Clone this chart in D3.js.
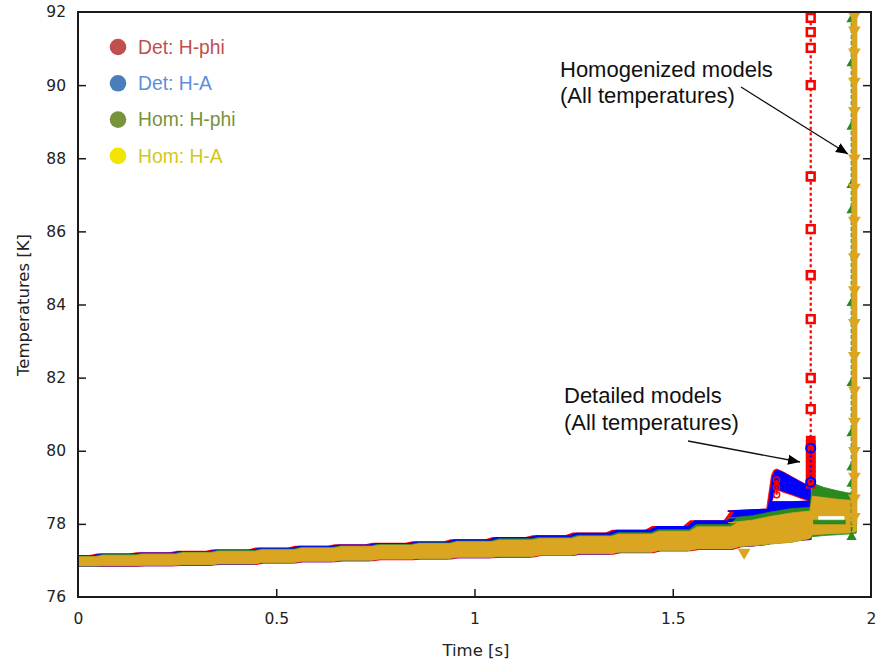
<!DOCTYPE html>
<html><head><meta charset="utf-8">
<script src="https://cdn.jsdelivr.net/npm/d3@7"></script>
<style>body{margin:0;background:#fff} svg{display:block}</style>
</head><body><svg id="chart" width="880" height="663"></svg>
<script>
// ---------------- data ----------------
const seriesNames = ["Det: H-phi", "Det: H-A", "Hom: H-phi", "Hom: H-A"];
const xTicks = [0, 0.5, 1, 1.5, 2];
const xTickLabels = ["0", "0.5", "1", "1.5", "2"];
const yTicks = [76, 78, 80, 82, 84, 86, 88, 90, 92];
const yTickLabels = ["76", "78", "80", "82", "84", "86", "88", "90", "92"];

// steady climb of the temperature envelope (step times, s)
const stepTime    = [0, 0.04, 0.14, 0.24, 0.33, 0.44, 0.54, 0.64, 0.735, 0.836, 0.932, 1.038, 1.139, 1.239, 1.34, 1.441, 1.537, 1.64];
const detAUpper   = [77.13, 77.17, 77.2, 77.24, 77.28, 77.33, 77.38, 77.42, 77.46, 77.5, 77.56, 77.62, 77.67, 77.74, 77.82, 77.92, 78.08, 78.35];
const detALower   = [76.84, 76.85, 76.86, 76.88, 76.9, 76.94, 76.97, 77.0, 77.03, 77.05, 77.08, 77.1, 77.14, 77.18, 77.22, 77.27, 77.31, 77.36];
const detPhiUpper = [77.13, 77.17, 77.2, 77.24, 77.28, 77.33, 77.38, 77.42, 77.46, 77.5, 77.56, 77.62, 77.67, 77.74, 77.82, 77.92, 78.08, 78.35];
const detPhiLower = [76.84, 76.85, 76.86, 76.88, 76.9, 76.94, 76.97, 77.0, 77.03, 77.05, 77.08, 77.1, 77.14, 77.18, 77.22, 77.27, 77.31, 77.36];
const homPhiUpper = [77.12, 77.16, 77.19, 77.23, 77.27, 77.31, 77.36, 77.4, 77.44, 77.48, 77.53, 77.59, 77.63, 77.69, 77.76, 77.84, 77.98, 78.16];
const homPhiLower = [76.85, 76.86, 76.87, 76.89, 76.91, 76.95, 76.98, 77.01, 77.04, 77.06, 77.09, 77.11, 77.15, 77.19, 77.23, 77.28, 77.32, 77.37];
const homAUpper   = [77.1, 77.14, 77.17, 77.21, 77.25, 77.29, 77.34, 77.38, 77.42, 77.46, 77.51, 77.56, 77.6, 77.66, 77.72, 77.8, 77.92, 78.03];
const homALower   = [76.845, 76.855, 76.865, 76.885, 76.905, 76.945, 76.975, 77.005, 77.035, 77.055, 77.085, 77.105, 77.145, 77.185, 77.225, 77.275, 77.315, 77.365];

// late part of the detailed models (before quench at ~1.85 s)
const detLateTime   = [1.64, 1.70, 1.742, 1.748, 1.80, 1.848];
const detLateUpper  = [78.35, 78.38, 78.4, 78.6, 78.6, 78.62];
const detLateLower  = [77.36, 77.4, 77.45, 77.5, 77.55, 77.58];
// hump of some detailed-model temperatures
const humpTime  = [1.740, 1.752, 1.758, 1.765, 1.78, 1.80, 1.82, 1.836, 1.848];
const humpUpper = [78.4, 79.3, 79.44, 79.47, 79.4, 79.28, 79.16, 79.07, 79.1];
const humpLower = [78.4, 78.7, 78.97, 78.95, 78.89, 78.82, 78.74, 78.68, 78.64];

// late part of the homogenized models
const homLateTime     = [1.64, 1.70, 1.745, 1.80, 1.846, 1.852, 1.88, 1.91, 1.94, 1.952, 1.963];
const homPhiLateUpper = [78.16, 78.22, 78.32, 78.42, 78.45, 79.12, 79.0, 78.92, 78.85, 78.84, 78.3];
const homPhiLateLower = [77.37, 77.4, 77.45, 77.5, 77.6, 77.65, 77.68, 77.7, 77.72, 77.72, 77.75];
const homALateUpper   = [78.03, 78.1, 78.2, 78.3, 78.35, 78.76, 78.72, 78.68, 78.65, 78.65, 78.3];
const homALateLower   = [77.37, 77.4, 77.45, 77.5, 77.6, 77.7, 77.72, 77.74, 77.75, 77.75, 77.8];
// gap and Hom H-phi cluster visible inside the Hom H-A band after 1.85 s
const homGapTime   = [1.868, 1.932];
const homGapUpper  = [78.2, 78.2];
const homGapLower  = [78.1, 78.1];
const homPhiBarTime  = [1.855, 1.935];
const homPhiBarUpper = [78.1, 78.1];
const homPhiBarLower = [78.0, 78.0];

// quench spikes (vertical runs of markers)
const detSpikeTime = 1.848;
const detPhiSpikeTemps = [91.84, 91.45, 91.02, 90.0, 87.5, 86.06, 84.8, 83.6, 81.99, 81.14];
const detPhiBlockTemps = [80.28, 80.16, 80.04, 79.92, 79.8, 79.68, 79.56, 79.44, 79.32, 79.2, 79.1];
const detPhiSpikeRange = [79.0, 93];
const detASpikeTemps = [80.07, 79.14];
const detASpikeRange = [79.14, 80.07];
const humpMarkTime = 1.762;
const humpMarkTemps = [79.2, 79.0, 78.8];

const homPhiSpikeTime = 1.951;
const homPhiSpikeTemps = [91.8, 90.6, 88.86, 87.27, 86.58, 84.04, 81.85, 80.48, 79.55, 79.1, 77.64];
const homPhiSpikeRange = [77.64, 93];
const homASpikeTime = 1.958;
const homASpikeTemps = [91.9, 91.5, 90.9, 90.1, 89.3, 88.0, 87.2, 86.3, 85.3, 84.4, 83.5, 82.6, 81.66, 80.8, 80.0, 79.3, 78.7, 78.2];
const homASpikeRange = [78.0, 93];
const homADipTime = [1.68];
const homADipTemps = [77.22];

// ---------------- chart ----------------
const mL = 78, mR = 871, mT = 12, mB = 597;
const x = d3.scaleLinear().domain([0, 2]).range([mL, mR]);
const y = d3.scaleLinear().domain([76, 92]).range([mB, mT]);

const col = {detPhi: "#ff0000", detA: "#0000ff", homPhi: "#2a8a1e", homA: "#daa520"};
const legendDot = ["#c0504d", "#4a7ebb", "#77933c", "#f2e600"];
const legendText = ["#c0504d", "#5b8fd9", "#77933c", "#d4c81a"];

const svg = d3.select("#chart");
const defs = svg.append("defs");
defs.append("clipPath").attr("id", "clip")
  .append("rect").attr("x", mL).attr("y", mT).attr("width", mR - mL).attr("height", mB - mT);
defs.append("marker").attr("id", "arrow")
  .attr("viewBox", "0 0 10 10").attr("refX", 10).attr("refY", 5)
  .attr("markerWidth", 12).attr("markerHeight", 12).attr("markerUnits", "userSpaceOnUse")
  .attr("orient", "auto")
  .append("path").attr("d", "M0,0.8 L10,5 L0,9.2 Z").attr("fill", "#000");

const plot = svg.append("g").attr("clip-path", "url(#clip)");
const line = d3.line().x(d => x(d[0])).y(d => y(d[1]));
const ramp = 0.018;

function stepPts(times, vals, lead) {
  const pts = [[times[0], vals[0]]];
  for (let i = 1; i < times.length; i++) {
    pts.push([times[i] + lead, vals[i - 1]], [times[i] + lead + ramp, vals[i]]);
  }
  return pts;
}
function linPts(times, vals) { return times.map((t, i) => [t, vals[i]]); }
function band(upperPts, lowerPts, fill, sw) {
  const pts = upperPts.concat(lowerPts.slice().reverse());
  plot.append("path").attr("d", line(pts) + "Z").attr("fill", fill)
    .attr("stroke", fill).attr("stroke-width", sw === undefined ? 0.8 : sw).attr("stroke-linejoin", "round");
}

// Det: H-phi (red)
band(stepPts(stepTime, detPhiUpper, -0.01).concat(linPts(detLateTime, detLateUpper)),
     stepPts(stepTime, detPhiLower, 0.01).concat(linPts(detLateTime, detLateLower)), col.detPhi, 1.6);
band(linPts(humpTime.map(t => t - 0.003), humpUpper.map(v => v + 0.03)), linPts(humpTime, humpLower.map(v => v - 0.03)), col.detPhi);
// Det: H-A (blue)
band(stepPts(stepTime, detAUpper, 0).concat(linPts(detLateTime, detLateUpper)),
     stepPts(stepTime, detALower, 0).concat(linPts(detLateTime, detLateLower)), col.detA, 1.4);
band(linPts(humpTime, humpUpper), linPts(humpTime, humpLower), col.detA);
// Hom: H-phi (green)
band(stepPts(stepTime, homPhiUpper, 0.004).concat(linPts(homLateTime, homPhiLateUpper)),
     stepPts(stepTime, homPhiLower, 0.004).concat(linPts(homLateTime, homPhiLateLower)), col.homPhi);
// Hom: H-A (goldenrod)
band(stepPts(stepTime, homAUpper, 0.006).concat(linPts(homLateTime, homALateUpper)),
     stepPts(stepTime, homALower, 0.006).concat(linPts(homLateTime, homALateLower)), col.homA);
band(linPts(homGapTime, homGapUpper), linPts(homGapTime, homGapLower), "#ffffff");
band(linPts(homPhiBarTime, homPhiBarUpper), linPts(homPhiBarTime, homPhiBarLower), col.homPhi);

// symbols
const sq = d3.symbol().type(d3.symbolSquare).size(60)();
const tri = d3.symbol().type(d3.symbolTriangle).size(46)();
const triBig = d3.symbol().type(d3.symbolTriangle).size(70)();

// red quench spike
plot.append("line").attr("x1", x(detSpikeTime)).attr("x2", x(detSpikeTime))
  .attr("y1", y(detPhiSpikeRange[0])).attr("y2", y(detPhiSpikeRange[1]))
  .attr("stroke", col.detPhi).attr("stroke-width", 2.2).attr("stroke-dasharray", "3,2.5");
plot.selectAll(".sq").data(detPhiSpikeTemps).join("path").attr("class", "sq")
  .attr("d", sq).attr("transform", d => `translate(${x(detSpikeTime)},${y(d)})`)
  .attr("fill", "#fff").attr("stroke", col.detPhi).attr("stroke-width", 2.6);
plot.selectAll(".sqb").data(detPhiBlockTemps).join("path").attr("class", "sqb")
  .attr("d", sq).attr("transform", d => `translate(${x(detSpikeTime)},${y(d)})`)
  .attr("fill", col.detPhi).attr("stroke", col.detPhi).attr("stroke-width", 2);
// red markers on hump
plot.append("line").attr("x1", x(humpMarkTime)).attr("x2", x(humpMarkTime))
  .attr("y1", y(d3.max(humpMarkTemps))).attr("y2", y(d3.min(humpMarkTemps)))
  .attr("stroke", col.detPhi).attr("stroke-width", 2).attr("stroke-dasharray", "3,3");
plot.selectAll(".hc").data(humpMarkTemps).join("circle").attr("class", "hc")
  .attr("cx", x(humpMarkTime)).attr("cy", d => y(d)).attr("r", 3)
  .attr("fill", "none").attr("stroke", col.detPhi).attr("stroke-width", 1.5);
// blue spike
plot.append("line").attr("x1", x(detSpikeTime)).attr("x2", x(detSpikeTime))
  .attr("y1", y(detASpikeRange[0])).attr("y2", y(detASpikeRange[1]))
  .attr("stroke", col.detA).attr("stroke-width", 2).attr("stroke-dasharray", "2,3");
plot.selectAll(".ci").data(detASpikeTemps).join("circle").attr("class", "ci")
  .attr("cx", x(detSpikeTime)).attr("cy", d => y(d)).attr("r", 4.5)
  .attr("fill", "none").attr("stroke", col.detA).attr("stroke-width", 2);

// green spike
plot.append("line").attr("x1", x(homPhiSpikeTime)).attr("x2", x(homPhiSpikeTime))
  .attr("y1", y(homPhiSpikeRange[0])).attr("y2", y(homPhiSpikeRange[1]))
  .attr("stroke", col.homPhi).attr("stroke-width", 1.8).attr("stroke-dasharray", "4,2");
plot.selectAll(".tr").data(homPhiSpikeTemps).join("path").attr("class", "tr")
  .attr("d", tri).attr("transform", d => `translate(${x(homPhiSpikeTime)},${y(d)})`)
  .attr("fill", col.homPhi);
// yellow spike
plot.append("line").attr("x1", x(homASpikeTime)).attr("x2", x(homASpikeTime))
  .attr("y1", y(homASpikeRange[0])).attr("y2", y(homASpikeRange[1]))
  .attr("stroke", col.homA).attr("stroke-width", 6);
plot.selectAll(".td").data(homASpikeTemps).join("path").attr("class", "td")
  .attr("d", triBig).attr("transform", d => `translate(${x(homASpikeTime)},${y(d)}) rotate(180)`)
  .attr("fill", col.homA);
plot.selectAll(".tdd").data(homADipTemps).join("path").attr("class", "tdd")
  .attr("d", triBig).attr("transform", (d, i) => `translate(${x(homADipTime[i])},${y(d)}) rotate(180)`)
  .attr("fill", col.homA);

// ---------------- frame & axes ----------------
const axisCol = "#1a1a1a";
svg.append("rect").attr("x", mL).attr("y", mT).attr("width", mR - mL).attr("height", mB - mT)
  .attr("fill", "none").attr("stroke", axisCol).attr("stroke-width", 2);
const tickFont = "'DejaVu Sans', sans-serif";
const yAxisL = d3.axisLeft(y).tickValues(yTicks).tickFormat((d, i) => yTickLabels[i]).tickSizeInner(-8).tickSizeOuter(0).tickPadding(12);
const yAxisR = d3.axisRight(y).tickValues(yTicks).tickFormat("").tickSizeInner(-8).tickSizeOuter(0);
const xAxis = d3.axisBottom(x).tickValues(xTicks).tickFormat((d, i) => xTickLabels[i]).tickSizeInner(-8).tickSizeOuter(0).tickPadding(16);
function styleAxis(g) {
  g.select(".domain").remove();
  g.selectAll(".tick line").attr("stroke", axisCol).attr("stroke-width", 1.5);
  g.selectAll(".tick text").attr("fill", "#222").style("font-family", tickFont).style("font-size", "15.5px");
}
svg.append("g").attr("transform", `translate(${mL},0)`).call(yAxisL).call(styleAxis);
svg.append("g").attr("transform", `translate(${mR},0)`).call(yAxisR).call(styleAxis);
svg.append("g").attr("transform", `translate(0,${mB})`).call(xAxis).call(styleAxis);
svg.selectAll(".tick").filter(d => d === 92 || d === 76 || d === 0 || d === 2).select("line").remove();

svg.append("text").attr("x", 476).attr("y", 656).attr("text-anchor", "middle")
  .style("font-family", tickFont).style("font-size", "16.5px").attr("fill", "#222").text("Time [s]");
svg.append("text").attr("transform", "translate(29,305) rotate(-90)").attr("text-anchor", "middle")
  .style("font-family", tickFont).style("font-size", "16.5px").attr("fill", "#222").text("Temperatures [K]");

// ---------------- legend ----------------
const lg = svg.append("g");
seriesNames.forEach((name, i) => {
  const cy = 47 + i * 36.3;
  lg.append("circle").attr("cx", 118).attr("cy", cy).attr("r", 8.3).attr("fill", legendDot[i]);
  lg.append("text").attr("x", 138).attr("y", cy + 6.8).attr("fill", legendText[i])
    .style("font-family", "'Liberation Sans', Arial, sans-serif").style("font-size", "19.3px").text(name);
});

// ---------------- annotations ----------------
const annFont = "'Liberation Sans', Arial, sans-serif";
const ann = svg.append("g").style("font-family", annFont).style("font-size", "22px").attr("fill", "#111");
ann.append("text").attr("x", 560).attr("y", 77).text("Homogenized models");
ann.append("text").attr("x", 560).attr("y", 103).text("(All temperatures)");
ann.append("text").attr("x", 564).attr("y", 403).text("Detailed models");
ann.append("text").attr("x", 564).attr("y", 430).text("(All temperatures)");
svg.append("line").attr("x1", 741).attr("y1", 87).attr("x2", 848).attr("y2", 154)
  .attr("stroke", "#111").attr("stroke-width", 1.3).attr("marker-end", "url(#arrow)");
svg.append("line").attr("x1", 688).attr("y1", 441).attr("x2", 800).attr("y2", 462)
  .attr("stroke", "#111").attr("stroke-width", 1.3).attr("marker-end", "url(#arrow)");
</script></body></html>
